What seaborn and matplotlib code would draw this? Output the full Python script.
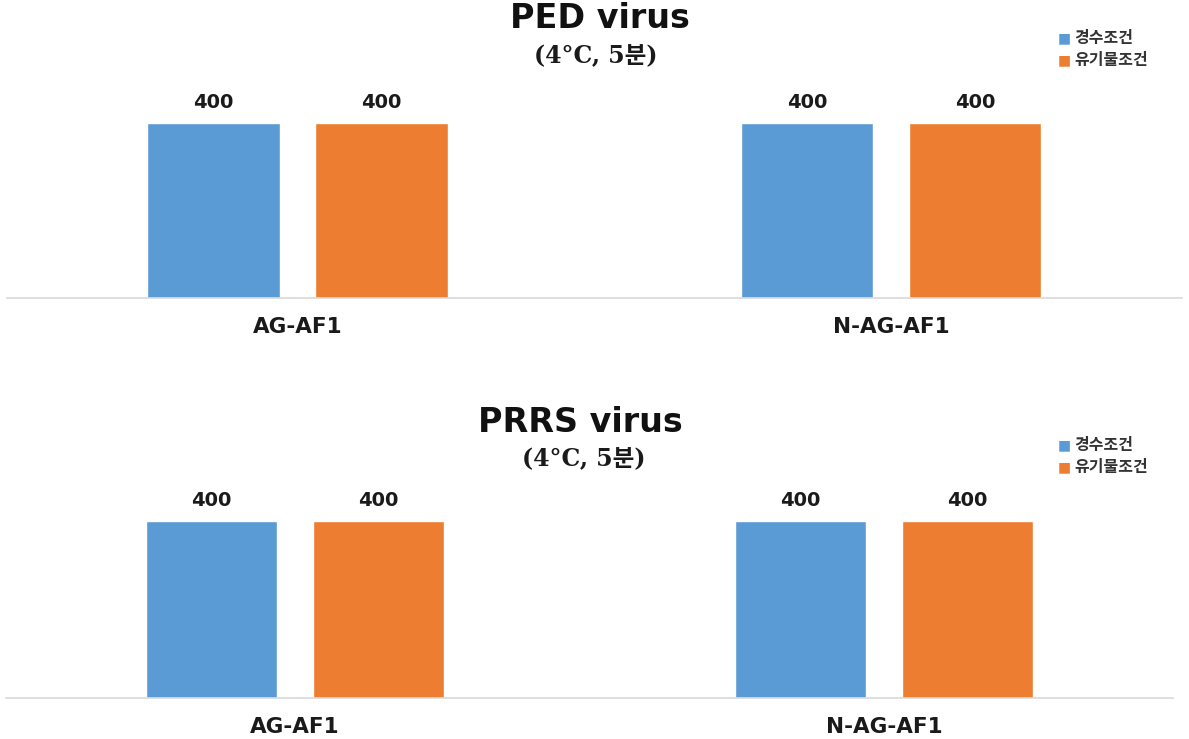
import matplotlib
matplotlib.use("Agg")
import matplotlib.pyplot as plt
import seaborn as sns
import pandas as pd

sns.set_theme(style="white")
plt.rcParams["font.family"] = ["DejaVu Sans", "Noto Sans CJK KR"]

# Data
products = ["AG-AF1", "N-AG-AF1"]
conditions = ["경수조건", "유기물조건"]
ped_values = [400, 400, 400, 400]        # AG-AF1 (hard, organic), N-AG-AF1 (hard, organic)
prrs_values = [400, 400, 400, 400]
panel_titles = ["PED virus", "PRRS virus"]
panel_subtitle = "(4\u00b0C, 5분)"
palette = ["#5B9BD5", "#ED7D31"]

W, H = 1189, 739
fig = plt.figure(figsize=(W / 100, H / 100), dpi=100)


def make_frame(values):
    rows = []
    i = 0
    for p in products:
        for c in conditions:
            rows.append({"product": p, "condition": c, "value": values[i]})
            i += 1
    return pd.DataFrame(rows)


def px_axes(left, bottom_px, width, height):
    return fig.add_axes([left / W, 1 - bottom_px / H, width / W, height / H])


YMAX = 480


def draw_panel(ax, values, title, title_x, title_y, sub_x, sub_y, leg_y):
    df = make_frame(values)
    sns.barplot(data=df, x="product", y="value", hue="condition",
                hue_order=conditions, order=products, palette=palette,
                width=0.566, gap=0.21, saturation=1, ax=ax, legend=False)
    ax.set_xlim(-0.49, 1.49)
    ax.set_ylim(0, YMAX)
    for s in ["top", "right", "left"]:
        ax.spines[s].set_visible(False)
    ax.spines["bottom"].set_color("#D9D9D9")
    ax.spines["bottom"].set_linewidth(1.2)
    ax.set_yticks([])
    ax.set_xlabel("")
    ax.set_ylabel("")
    ax.tick_params(axis="x", length=0, pad=14)
    for lbl in ax.get_xticklabels():
        lbl.set_fontweight("bold")
        lbl.set_fontsize(15.5)
        lbl.set_color("#1a1a1a")
    for cont in ax.containers:
        ax.bar_label(cont, labels=[f"{v:g}" for v in cont.datavalues],
                     padding=8, fontsize=14, fontweight="bold", color="#1a1a1a")
    fig.text(title_x / W, 1 - title_y / H, title, ha="center", va="center",
             fontsize=24, fontweight="bold", color="#111111")
    fig.text(sub_x / W, 1 - sub_y / H, panel_subtitle, ha="center", va="center",
             fontsize=17, fontweight="bold", color="#1a1a1a",
             family=["DejaVu Serif", "Noto Sans CJK KR"])
    for k, (c, col) in enumerate(zip(conditions, palette)):
        y = leg_y + k * 22
        fig.text(1058 / W, 1 - y / H, "\u25a0", ha="left", va="center",
                 fontsize=10, color=col, family=["DejaVu Sans"])
        fig.text(1074 / W, 1 - y / H, c, ha="left", va="center",
                 fontsize=11.5, fontweight="bold", color="#333333",
                 family=["Noto Sans CJK KR", "DejaVu Sans"])


# top panel: baseline at 298 px, bars reach 123 px for 400
h_top = 175 * YMAX / 400
ax1 = px_axes(297.5 - 0.49 * 593.5, 298, 1.98 * 593.5, h_top)
draw_panel(ax1, ped_values, panel_titles[0], 600, 19, 596, 56, 38)

# bottom panel: baseline at 698 px, bars reach 521 px
h_bot = 177 * YMAX / 400
ax2 = px_axes(295 - 0.49 * 589, 698, 1.98 * 589, h_bot)
draw_panel(ax2, prrs_values, panel_titles[1], 580, 423, 584, 459, 445)

fig.savefig("out.png", dpi=100)
